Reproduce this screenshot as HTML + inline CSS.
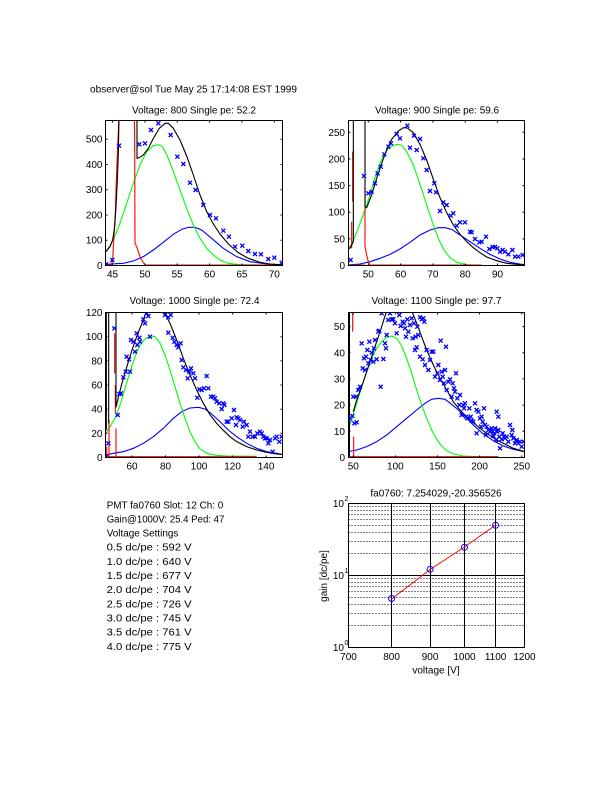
<!DOCTYPE html>
<html><head><meta charset="utf-8"><style>
html,body{margin:0;padding:0;background:#fff;}
svg{display:block;}
text{font-family:"Liberation Sans",Arial,Helvetica,sans-serif;font-size:10px;fill:#000;}
</style></head><body>
<svg width="612" height="792" viewBox="0 0 612 792" xmlns="http://www.w3.org/2000/svg">
<defs>
<path id="mx" d="M-6-6L6 6M-6 6L6-6" stroke="#0000ff" stroke-width="4" fill="none"/>
<clipPath id="c1"><rect x="105.5" y="120.5" width="177" height="145"/></clipPath>
<clipPath id="c2"><rect x="348.5" y="120.5" width="176" height="145"/></clipPath>
<clipPath id="c3"><rect x="105.5" y="312.5" width="177" height="145"/></clipPath>
<clipPath id="c4"><rect x="348.5" y="312.5" width="176" height="145"/></clipPath>
</defs>
<rect width="612" height="792" fill="#fff"/>

<text x="90" y="92.5" textLength="207" lengthAdjust="spacingAndGlyphs">observer@sol Tue May 25 17:14:08 EST 1999</text>

<!-- ============ PLOT 1 ============ -->
<text x="194" y="113.5" text-anchor="middle" textLength="124" lengthAdjust="spacingAndGlyphs">Voltage: 800 Single pe: 52.2</text>
<g clip-path="url(#c1)"><g transform="translate(80,80) scale(0.33333)" fill="none" stroke-width="3.3">
<path stroke="#0000ff" d="M78 553 L130 550 L160 543 L190 530 L220 510 L250 487 L280 463 L305 448 L325 442 L345 442 L365 450 L395 475 L430 505 L470 530 L510 545 L560 552 L606 554"/>
<path stroke="#00ff00" d="M78 515 L100 480 L120 430 L140 370 L160 310 L180 255 L200 215 L220 197 L235 194 L248 200 L262 228 L280 275 L300 330 L320 385 L340 435 L360 475 L380 505 L400 525 L420 540 L445 550 L480 554 L540 555"/>
<path stroke="#ff0000" d="M78 555 L95 555 L98 540 L100 500 L103 450 L106 400 L108 330 L111 250 L114 180 L117 110 M163 110 L164 180 L165 490 L170 500 L175 515 L182 535 L190 548 L197 555 L606 555"/>
<path stroke="#000" d="M78 515 L90 500 L98 480 L104 440 L108 380 L112 300 L115 220 L117 110 M171 110 L171 235 L178 233 L190 225 L205 205 L220 175 L238 145 L255 130 L265 130 L280 145 L300 180 L320 228 L340 285 L360 345 L380 395 L400 432 L420 462 L445 492 L475 518 L505 535 L540 547 L570 552 L606 555"/>
<use href="#mx" x="78" y="553"/><use href="#mx" x="97" y="540"/><use href="#mx" x="117" y="197"/><use href="#mx" x="178" y="193"/><use href="#mx" x="195" y="190"/><use href="#mx" x="213" y="150"/><use href="#mx" x="235" y="130"/><use href="#mx" x="272" y="165"/><use href="#mx" x="292" y="230"/><use href="#mx" x="310" y="252"/><use href="#mx" x="330" y="308"/><use href="#mx" x="347" y="330"/><use href="#mx" x="370" y="375"/><use href="#mx" x="390" y="405"/><use href="#mx" x="408" y="415"/><use href="#mx" x="430" y="452"/><use href="#mx" x="447" y="470"/><use href="#mx" x="465" y="500"/><use href="#mx" x="487" y="497"/><use href="#mx" x="505" y="513"/><use href="#mx" x="525" y="522"/><use href="#mx" x="543" y="523"/><use href="#mx" x="565" y="537"/><use href="#mx" x="583" y="533"/><use href="#mx" x="605" y="548"/>
</g></g>
<g stroke="#000" stroke-width="1" fill="none">
<rect x="105.5" y="120.5" width="177" height="145"/>
<path d="M112.5 265.5v-2M144.9 265.5v-2M177.2 265.5v-2M209.6 265.5v-2M241.9 265.5v-2M274.3 265.5v-2M112.5 120.5v2M144.9 120.5v2M177.2 120.5v2M209.6 120.5v2M241.9 120.5v2M274.3 120.5v2"/>
<path d="M105.5 240.2h2M105.5 215h2M105.5 189.7h2M105.5 164.5h2M105.5 139.2h2M282.5 240.2h-2M282.5 215h-2M282.5 189.7h-2M282.5 164.5h-2M282.5 139.2h-2"/>
</g>
<g text-anchor="middle">
<text x="112.5" y="277.5">45</text><text x="144.9" y="277.5">50</text><text x="177.2" y="277.5">55</text><text x="209.6" y="277.5">60</text><text x="241.9" y="277.5">65</text><text x="274.3" y="277.5">70</text>
</g>
<g text-anchor="end">
<text x="102.5" y="269">0</text><text x="102.5" y="243.7">100</text><text x="102.5" y="218.5">200</text><text x="102.5" y="193.2">300</text><text x="102.5" y="168">400</text><text x="102.5" y="142.7">500</text>
</g>

<!-- ============ PLOT 2 ============ -->
<text x="437" y="113.5" text-anchor="middle" textLength="124" lengthAdjust="spacingAndGlyphs">Voltage: 900 Single pe: 59.6</text>
<g clip-path="url(#c2)"><g transform="translate(320,95) scale(0.33333)" fill="none" stroke-width="3.3">
<path stroke="#0000ff" d="M84 510 L120 507 L150 500 L180 490 L210 478 L240 462 L270 442 L300 420 L330 405 L355 398 L375 398 L395 403 L420 420 L450 440 L480 460 L510 478 L540 492 L570 502 L600 507 L615 509"/>
<path stroke="#00ff00" d="M84 462 L95 448 L110 412 L125 372 L140 330 L155 282 L170 232 L185 192 L200 167 L215 153 L232 148 L245 151 L260 170 L280 210 L300 268 L320 330 L340 390 L355 430 L370 462 L390 488 L410 502 L440 509 L480 511"/>
<path stroke="#ff0000" d="M95 380 L95 460 M98 170 L98 320 M135 278 L135 455 L140 480 L145 500 L150 510 L485 510 M88 510 L135 510"/>
<path stroke="#000" d="M88 462 L95 450 L100 440 L100 70 M135 70 L135 335 L140 338 L147 320 L155 300 L170 250 L185 205 L200 165 L215 133 L235 108 L250 98 L262 99 L280 113 L300 148 L320 195 L340 253 L360 308 L380 353 L400 390 L420 418 L440 440 L460 458 L480 473 L500 486 L530 497 L560 505 L590 508 L615 510"/>
<use href="#mx" x="92" y="495"/><use href="#mx" x="132" y="243"/><use href="#mx" x="145" y="295"/><use href="#mx" x="155" y="290"/><use href="#mx" x="165" y="265"/><use href="#mx" x="173" y="235"/><use href="#mx" x="182" y="215"/><use href="#mx" x="193" y="178"/><use href="#mx" x="205" y="155"/><use href="#mx" x="213" y="145"/><use href="#mx" x="230" y="117"/><use href="#mx" x="240" y="130"/><use href="#mx" x="262" y="92"/><use href="#mx" x="270" y="158"/><use href="#mx" x="282" y="122"/><use href="#mx" x="290" y="165"/><use href="#mx" x="300" y="132"/><use href="#mx" x="310" y="190"/><use href="#mx" x="320" y="225"/><use href="#mx" x="330" y="288"/><use href="#mx" x="343" y="265"/><use href="#mx" x="348" y="292"/><use href="#mx" x="360" y="348"/><use href="#mx" x="370" y="322"/><use href="#mx" x="380" y="330"/><use href="#mx" x="392" y="362"/><use href="#mx" x="400" y="355"/><use href="#mx" x="410" y="392"/><use href="#mx" x="420" y="382"/><use href="#mx" x="435" y="382"/><use href="#mx" x="450" y="410"/><use href="#mx" x="455" y="412"/><use href="#mx" x="465" y="432"/><use href="#mx" x="478" y="442"/><use href="#mx" x="485" y="440"/><use href="#mx" x="498" y="425"/><use href="#mx" x="508" y="462"/><use href="#mx" x="518" y="456"/><use href="#mx" x="525" y="456"/><use href="#mx" x="532" y="460"/><use href="#mx" x="540" y="470"/><use href="#mx" x="548" y="465"/><use href="#mx" x="555" y="470"/><use href="#mx" x="565" y="478"/><use href="#mx" x="577" y="465"/><use href="#mx" x="585" y="485"/><use href="#mx" x="595" y="485"/><use href="#mx" x="608" y="480"/>
</g></g>
<g stroke="#000" stroke-width="1" fill="none">
<rect x="348.5" y="120.5" width="176" height="145"/>
<path d="M368.3 265.5v-2M400.6 265.5v-2M432.9 265.5v-2M465.2 265.5v-2M497.5 265.5v-2M368.3 120.5v2M400.6 120.5v2M432.9 120.5v2M465.2 120.5v2M497.5 120.5v2"/>
<path d="M348.5 238.9h2M348.5 212.2h2M348.5 185.6h2M348.5 159h2M348.5 132.3h2M524.5 238.9h-2M524.5 212.2h-2M524.5 185.6h-2M524.5 159h-2M524.5 132.3h-2"/>
</g>
<g text-anchor="middle">
<text x="368.3" y="277.5">50</text><text x="400.6" y="277.5">60</text><text x="432.9" y="277.5">70</text><text x="465.2" y="277.5">80</text><text x="497.5" y="277.5">90</text>
</g>
<g text-anchor="end">
<text x="345" y="269">0</text><text x="345" y="242.4">50</text><text x="345" y="215.7">100</text><text x="345" y="189.1">150</text><text x="345" y="162.5">200</text><text x="345" y="135.8">250</text>
</g>

<!-- ============ PLOT 3 ============ -->
<text x="194.5" y="304" text-anchor="middle" textLength="130" lengthAdjust="spacingAndGlyphs">Voltage: 1000 Single pe: 72.4</text>
<g clip-path="url(#c3)"><g transform="translate(80,290) scale(0.33333)" fill="none" stroke-width="3.3">
<path stroke="#0000ff" d="M75 495 L100 490 L130 485 L160 475 L190 460 L220 440 L250 415 L280 385 L305 365 L330 354 L355 352 L375 357 L395 372 L420 395 L445 420 L470 440 L500 460 L530 475 L560 485 L590 490 L610 494"/>
<path stroke="#00ff00" d="M75 433 L90 410 L105 385 L120 345 L135 295 L150 245 L165 200 L180 165 L195 147 L210 138 L225 140 L240 160 L255 195 L270 240 L285 290 L300 340 L315 385 L330 425 L345 455 L360 477 L380 490 L410 496 L440 498 L530 499"/>
<path stroke="#ff0000" d="M80 470 L80 500 M87 390 L87 500 M104 130 L104 250 M106 285 L106 370 M108 415 L108 500 M75 500 L530 500"/>
<path stroke="#000" d="M79 60 L79 420 M86 60 L86 400 M108 60 L108 352 L115 322 L125 283 L140 232 L155 183 L170 140 L185 102 L200 62 M251 62 L270 100 L290 150 L310 205 L330 255 L350 300 L370 340 L390 374 L410 400 L430 421 L450 440 L470 455 L500 470 L530 480 L560 487 L590 492 L610 494"/>
<use href="#mx" x="78" y="500"/><use href="#mx" x="85" y="460"/><use href="#mx" x="103" y="115"/><use href="#mx" x="113" y="375"/><use href="#mx" x="118" y="312"/><use href="#mx" x="123" y="310"/><use href="#mx" x="130" y="262"/><use href="#mx" x="137" y="245"/><use href="#mx" x="140" y="200"/><use href="#mx" x="147" y="208"/><use href="#mx" x="150" y="245"/><use href="#mx" x="153" y="150"/><use href="#mx" x="160" y="155"/><use href="#mx" x="165" y="185"/><use href="#mx" x="170" y="130"/><use href="#mx" x="172" y="165"/><use href="#mx" x="178" y="143"/><use href="#mx" x="180" y="155"/><use href="#mx" x="190" y="88"/><use href="#mx" x="195" y="100"/><use href="#mx" x="200" y="70"/><use href="#mx" x="205" y="78"/><use href="#mx" x="210" y="140"/><use href="#mx" x="255" y="75"/><use href="#mx" x="265" y="82"/><use href="#mx" x="272" y="75"/><use href="#mx" x="265" y="128"/><use href="#mx" x="278" y="143"/><use href="#mx" x="283" y="155"/><use href="#mx" x="290" y="165"/><use href="#mx" x="295" y="172"/><use href="#mx" x="302" y="160"/><use href="#mx" x="305" y="210"/><use href="#mx" x="310" y="232"/><use href="#mx" x="318" y="240"/><use href="#mx" x="323" y="265"/><use href="#mx" x="328" y="245"/><use href="#mx" x="333" y="235"/><use href="#mx" x="340" y="250"/><use href="#mx" x="345" y="265"/><use href="#mx" x="352" y="323"/><use href="#mx" x="358" y="298"/><use href="#mx" x="365" y="300"/><use href="#mx" x="372" y="295"/><use href="#mx" x="380" y="258"/><use href="#mx" x="385" y="295"/><use href="#mx" x="393" y="320"/><use href="#mx" x="400" y="320"/><use href="#mx" x="405" y="325"/><use href="#mx" x="410" y="335"/><use href="#mx" x="418" y="340"/><use href="#mx" x="425" y="357"/><use href="#mx" x="430" y="340"/><use href="#mx" x="433" y="345"/><use href="#mx" x="440" y="395"/><use href="#mx" x="445" y="395"/><use href="#mx" x="455" y="385"/><use href="#mx" x="462" y="360"/><use href="#mx" x="468" y="405"/><use href="#mx" x="470" y="382"/><use href="#mx" x="475" y="385"/><use href="#mx" x="480" y="390"/><use href="#mx" x="488" y="410"/><use href="#mx" x="492" y="395"/><use href="#mx" x="500" y="405"/><use href="#mx" x="505" y="440"/><use href="#mx" x="510" y="425"/><use href="#mx" x="518" y="440"/><use href="#mx" x="525" y="440"/><use href="#mx" x="532" y="430"/><use href="#mx" x="540" y="425"/><use href="#mx" x="545" y="430"/><use href="#mx" x="550" y="440"/><use href="#mx" x="555" y="445"/><use href="#mx" x="560" y="445"/><use href="#mx" x="565" y="460"/><use href="#mx" x="570" y="450"/><use href="#mx" x="578" y="485"/><use href="#mx" x="585" y="445"/><use href="#mx" x="590" y="440"/><use href="#mx" x="598" y="455"/><use href="#mx" x="605" y="440"/>
</g></g>
<g stroke="#000" stroke-width="1" fill="none">
<rect x="105.5" y="312.5" width="177" height="145"/>
<path d="M132 457.5v-2M165.5 457.5v-2M199 457.5v-2M232.6 457.5v-2M266.1 457.5v-2M132 312.5v2M165.5 312.5v2M199 312.5v2M232.6 312.5v2M266.1 312.5v2"/>
<path d="M105.5 433.3h2M105.5 409.2h2M105.5 385h2M105.5 360.8h2M105.5 336.7h2M282.5 433.3h-2M282.5 409.2h-2M282.5 385h-2M282.5 360.8h-2M282.5 336.7h-2"/>
</g>
<g text-anchor="middle">
<text x="132" y="469.5">60</text><text x="165.5" y="469.5">80</text><text x="199" y="469.5">100</text><text x="232.6" y="469.5">120</text><text x="266.1" y="469.5">140</text>
</g>
<g text-anchor="end">
<text x="102.5" y="461">0</text><text x="102.5" y="436.8">20</text><text x="102.5" y="412.7">40</text><text x="102.5" y="388.5">60</text><text x="102.5" y="364.3">80</text><text x="102.5" y="340.2">100</text><text x="102.5" y="316">120</text>
</g>

<!-- ============ PLOT 4 ============ -->
<text x="436.5" y="304" text-anchor="middle" textLength="130" lengthAdjust="spacingAndGlyphs">Voltage: 1100 Single pe: 97.7</text>
<g clip-path="url(#c4)"><g transform="translate(320,290) scale(0.33333)" fill="none" stroke-width="3.3">
<path stroke="#0000ff" d="M84 485 L110 480 L140 470 L170 455 L200 435 L230 410 L260 385 L290 360 L315 340 L335 328 L355 325 L375 328 L395 343 L415 360 L440 385 L465 410 L490 432 L520 452 L550 468 L580 478 L614 485"/>
<path stroke="#00ff00" d="M84 420 L95 390 L110 340 L125 290 L140 245 L155 205 L170 175 L185 155 L200 142 L215 138 L230 145 L245 168 L260 205 L275 250 L290 300 L305 345 L320 385 L335 420 L350 448 L365 468 L380 482 L400 492 L430 498 L470 500 L535 500"/>
<path stroke="#000" stroke-width="6" d="M87 60 L87 505"/>
<path stroke="#ff0000" d="M84 420 L84 501 M98 60 L98 125 M101 440 L101 501 M84 500 L535 500"/>
<path stroke="#000" d="M100 365 L110 330 L125 290 L140 245 L155 200 L170 155 L185 110 L200 62 M275 62 L290 100 L305 140 L320 180 L340 225 L360 265 L380 300 L400 335 L420 360 L440 380 L460 398 L480 415 L500 430 L520 443 L540 455 L560 465 L580 475 L600 481 L614 485"/>
<use href="#mx" x="85" y="390"/><use href="#mx" x="90" y="385"/><use href="#mx" x="97" y="378"/><use href="#mx" x="103" y="400"/><use href="#mx" x="110" y="397"/><use href="#mx" x="100" y="320"/><use href="#mx" x="108" y="320"/><use href="#mx" x="115" y="300"/><use href="#mx" x="120" y="290"/><use href="#mx" x="125" y="160"/><use href="#mx" x="128" y="235"/><use href="#mx" x="132" y="205"/><use href="#mx" x="135" y="240"/><use href="#mx" x="138" y="200"/><use href="#mx" x="142" y="180"/><use href="#mx" x="145" y="220"/><use href="#mx" x="148" y="155"/><use href="#mx" x="152" y="210"/><use href="#mx" x="155" y="188"/><use href="#mx" x="160" y="215"/><use href="#mx" x="162" y="175"/><use href="#mx" x="165" y="150"/><use href="#mx" x="170" y="208"/><use href="#mx" x="175" y="125"/><use href="#mx" x="178" y="122"/><use href="#mx" x="182" y="290"/><use href="#mx" x="190" y="207"/><use href="#mx" x="195" y="160"/><use href="#mx" x="198" y="175"/><use href="#mx" x="200" y="135"/><use href="#mx" x="185" y="70"/><use href="#mx" x="205" y="90"/><use href="#mx" x="210" y="70"/><use href="#mx" x="215" y="88"/><use href="#mx" x="220" y="88"/><use href="#mx" x="225" y="100"/><use href="#mx" x="230" y="130"/><use href="#mx" x="238" y="75"/><use href="#mx" x="242" y="108"/><use href="#mx" x="248" y="95"/><use href="#mx" x="252" y="100"/><use href="#mx" x="255" y="115"/><use href="#mx" x="258" y="140"/><use href="#mx" x="262" y="88"/><use href="#mx" x="265" y="125"/><use href="#mx" x="270" y="105"/><use href="#mx" x="275" y="85"/><use href="#mx" x="278" y="145"/><use href="#mx" x="282" y="100"/><use href="#mx" x="287" y="140"/><use href="#mx" x="292" y="110"/><use href="#mx" x="295" y="135"/><use href="#mx" x="300" y="82"/><use href="#mx" x="305" y="88"/><use href="#mx" x="310" y="85"/><use href="#mx" x="313" y="95"/><use href="#mx" x="290" y="172"/><use href="#mx" x="285" y="180"/><use href="#mx" x="300" y="200"/><use href="#mx" x="308" y="208"/><use href="#mx" x="315" y="225"/><use href="#mx" x="320" y="180"/><use href="#mx" x="325" y="240"/><use href="#mx" x="330" y="210"/><use href="#mx" x="335" y="185"/><use href="#mx" x="340" y="185"/><use href="#mx" x="345" y="260"/><use href="#mx" x="352" y="250"/><use href="#mx" x="355" y="225"/><use href="#mx" x="360" y="270"/><use href="#mx" x="362" y="152"/><use href="#mx" x="365" y="245"/><use href="#mx" x="368" y="260"/><use href="#mx" x="372" y="280"/><use href="#mx" x="375" y="240"/><use href="#mx" x="378" y="170"/><use href="#mx" x="380" y="300"/><use href="#mx" x="385" y="275"/><use href="#mx" x="390" y="268"/><use href="#mx" x="395" y="320"/><use href="#mx" x="398" y="280"/><use href="#mx" x="402" y="295"/><use href="#mx" x="405" y="305"/><use href="#mx" x="408" y="250"/><use href="#mx" x="412" y="325"/><use href="#mx" x="418" y="345"/><use href="#mx" x="420" y="315"/><use href="#mx" x="425" y="375"/><use href="#mx" x="430" y="345"/><use href="#mx" x="432" y="355"/><use href="#mx" x="435" y="340"/><use href="#mx" x="438" y="380"/><use href="#mx" x="442" y="385"/><use href="#mx" x="448" y="355"/><use href="#mx" x="452" y="380"/><use href="#mx" x="455" y="392"/><use href="#mx" x="460" y="395"/><use href="#mx" x="465" y="340"/><use href="#mx" x="470" y="360"/><use href="#mx" x="475" y="365"/><use href="#mx" x="480" y="385"/><use href="#mx" x="485" y="380"/><use href="#mx" x="488" y="395"/><use href="#mx" x="492" y="355"/><use href="#mx" x="495" y="405"/><use href="#mx" x="500" y="410"/><use href="#mx" x="505" y="420"/><use href="#mx" x="510" y="425"/><use href="#mx" x="515" y="415"/><use href="#mx" x="518" y="425"/><use href="#mx" x="522" y="430"/><use href="#mx" x="525" y="415"/><use href="#mx" x="528" y="450"/><use href="#mx" x="532" y="425"/><use href="#mx" x="535" y="420"/><use href="#mx" x="538" y="440"/><use href="#mx" x="540" y="475"/><use href="#mx" x="545" y="448"/><use href="#mx" x="548" y="430"/><use href="#mx" x="552" y="440"/><use href="#mx" x="555" y="445"/><use href="#mx" x="560" y="440"/><use href="#mx" x="565" y="455"/><use href="#mx" x="570" y="405"/><use href="#mx" x="575" y="435"/><use href="#mx" x="580" y="445"/><use href="#mx" x="585" y="460"/><use href="#mx" x="590" y="450"/><use href="#mx" x="595" y="460"/><use href="#mx" x="600" y="455"/><use href="#mx" x="605" y="470"/><use href="#mx" x="610" y="455"/><use href="#mx" x="530" y="365"/><use href="#mx" x="535" y="380"/><use href="#mx" x="498" y="435"/><use href="#mx" x="470" y="430"/><use href="#mx" x="520" y="438"/><use href="#mx" x="577" y="420"/><use href="#mx" x="483" y="410"/>
</g></g>
<g stroke="#000" stroke-width="1" fill="none">
<rect x="348.5" y="312.5" width="176" height="145"/>
<path d="M353.3 457.5v-2M395.4 457.5v-2M437.5 457.5v-2M479.6 457.5v-2M521.7 457.5v-2M353.3 312.5v2M395.4 312.5v2M437.5 312.5v2M479.6 312.5v2M521.7 312.5v2"/>
<path d="M348.5 431.3h2M348.5 405.1h2M348.5 378.9h2M348.5 352.8h2M348.5 326.6h2M524.5 431.3h-2M524.5 405.1h-2M524.5 378.9h-2M524.5 352.8h-2M524.5 326.6h-2"/>
</g>
<g text-anchor="middle">
<text x="353.3" y="469.5">50</text><text x="395.4" y="469.5">100</text><text x="437.5" y="469.5">150</text><text x="479.6" y="469.5">200</text><text x="521.7" y="469.5">250</text>
</g>
<g text-anchor="end">
<text x="345" y="461">0</text><text x="345" y="434.8">10</text><text x="345" y="408.6">20</text><text x="345" y="382.4">30</text><text x="345" y="356.3">40</text><text x="345" y="330.1">50</text>
</g>

<!-- ============ TEXT BLOCK ============ -->
<text x="106.7" y="508.3" textLength="116.6" lengthAdjust="spacingAndGlyphs">PMT fa0760 Slot: 12 Ch: 0</text>
<text x="106.7" y="522.4" textLength="117.7" lengthAdjust="spacingAndGlyphs">Gain@1000V: 25.4 Ped: 47</text>
<text x="106.7" y="536.6" textLength="71.7" lengthAdjust="spacingAndGlyphs">Voltage Settings</text>
<text x="106.7" y="550.7" textLength="85" lengthAdjust="spacingAndGlyphs">0.5 dc/pe : 592 V</text>
<text x="106.7" y="564.9" textLength="85" lengthAdjust="spacingAndGlyphs">1.0 dc/pe : 640 V</text>
<text x="106.7" y="579" textLength="85" lengthAdjust="spacingAndGlyphs">1.5 dc/pe : 677 V</text>
<text x="106.7" y="593.2" textLength="85" lengthAdjust="spacingAndGlyphs">2.0 dc/pe : 704 V</text>
<text x="106.7" y="607.3" textLength="85" lengthAdjust="spacingAndGlyphs">2.5 dc/pe : 726 V</text>
<text x="106.7" y="621.5" textLength="85" lengthAdjust="spacingAndGlyphs">3.0 dc/pe : 745 V</text>
<text x="106.7" y="635.6" textLength="85" lengthAdjust="spacingAndGlyphs">3.5 dc/pe : 761 V</text>
<text x="106.7" y="649.8" textLength="85" lengthAdjust="spacingAndGlyphs">4.0 dc/pe : 775 V</text>

<!-- ============ GAIN PLOT ============ -->
<text x="436" y="496.5" text-anchor="middle">fa0760: 7.254029,-20.356526</text>
<g stroke="#000" stroke-width="1" fill="none" stroke-dasharray="1 2">
<path d="M348.5 625.5H524.5M348.5 613.5H524.5M348.5 604.5H524.5M348.5 597.5H524.5M348.5 591.5H524.5M348.5 586.5H524.5M348.5 582.5H524.5M348.5 578.5H524.5M348.5 553.5H524.5M348.5 541.5H524.5M348.5 532.5H524.5M348.5 525.5H524.5M348.5 519.5H524.5M348.5 514.5H524.5M348.5 510.5H524.5M348.5 506.5H524.5"/>
</g>
<g stroke="#000" stroke-width="1" fill="none">
<path d="M391.5 503.5V647.5M430.5 503.5V647.5M464.5 503.5V647.5M495.5 503.5V647.5M348.5 575.5H524.5"/>
<rect x="348.5" y="503.5" width="176" height="144"/>
</g>
<path d="M391.6 599 L430.1 569.5 L464.5 547 L495.6 525" stroke="#ff0000" stroke-width="1" fill="none"/>
<g stroke="#0000ff" stroke-width="1" fill="none">
<circle cx="391.6" cy="598.5" r="3"/><circle cx="430.1" cy="569.3" r="3"/><circle cx="464.5" cy="547.3" r="3"/><circle cx="495.6" cy="525.3" r="3"/>
</g>
<g text-anchor="middle">
<text x="348.5" y="660">700</text><text x="391.6" y="660">800</text><text x="430.1" y="660">900</text><text x="464.5" y="660">1000</text><text x="495.6" y="660">1100</text><text x="524.5" y="660">1200</text>
</g>
<text x="344" y="507" text-anchor="end">10</text><text x="344.5" y="501" style="font-size:7px">2</text>
<text x="344" y="579" text-anchor="end">10</text><text x="344.5" y="573" style="font-size:7px">1</text>
<text x="344" y="651" text-anchor="end">10</text><text x="344.5" y="645" style="font-size:7px">0</text>
<text x="436" y="673.5" text-anchor="middle">voltage [V]</text>
<text transform="translate(327,576) rotate(-90)" text-anchor="middle">gain [dc/pe]</text>
</svg>
</body></html>
